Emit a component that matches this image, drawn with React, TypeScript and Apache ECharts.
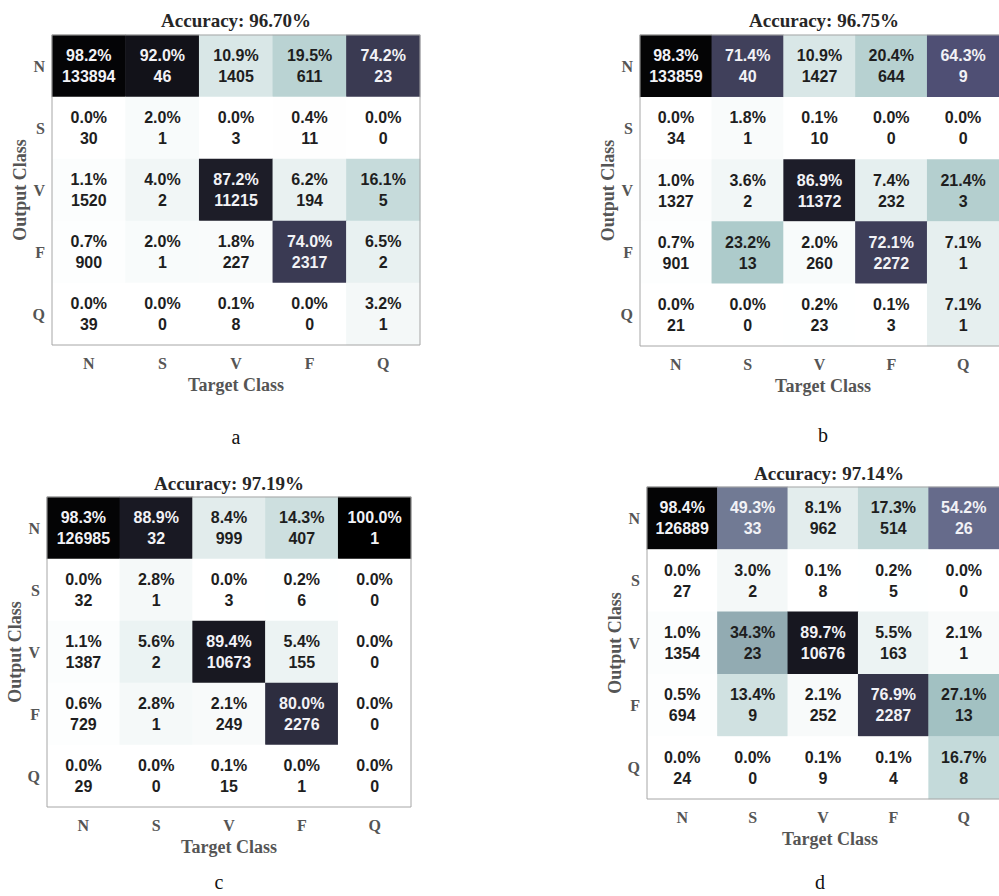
import React, { useEffect, useRef } from "react";
import * as echarts from "echarts";

// Class labels shared by both axes (target = columns, output = rows)
const CLASSES = ["N", "S", "V", "F", "Q"];

// Confusion counts: rows = output class, columns = target class
const COUNTS_A = [
  [133894, 46, 1405, 611, 23],
  [30, 1, 3, 11, 0],
  [1520, 2, 11215, 194, 5],
  [900, 1, 227, 2317, 2],
  [39, 0, 8, 0, 1],
];
const COUNTS_B = [
  [133859, 40, 1427, 644, 9],
  [34, 1, 10, 0, 0],
  [1327, 2, 11372, 232, 3],
  [901, 13, 260, 2272, 1],
  [21, 0, 23, 3, 1],
];
const COUNTS_C = [
  [126985, 32, 999, 407, 1],
  [32, 1, 3, 6, 0],
  [1387, 2, 10673, 155, 0],
  [729, 1, 249, 2276, 0],
  [29, 0, 15, 1, 0],
];
const COUNTS_D = [
  [126889, 33, 962, 514, 26],
  [27, 2, 8, 5, 0],
  [1354, 23, 10676, 163, 1],
  [694, 9, 252, 2287, 13],
  [24, 0, 9, 4, 8],
];

const PANEL_LETTERS = ["a", "b", "c", "d"];

// Reversed bone-like colormap sampled every 1/8 (white -> black)
const BONE_REVERSED = [
  "#ffffff", "#d3e3e3", "#a7c7c7", "#8ba1ab", "#6f7793",
  "#53537a", "#38384f", "#1c1c27", "#000000",
];

const SERIF = "'Liberation Serif', 'Times New Roman', serif";
const SANS = "'Liberation Sans', Arial, sans-serif";

const LAYOUT = [
  { counts: COUNTS_A, grid: { left: 52, top: 35, width: 368, height: 310 }, titleX: 236, titleY: 20, letterX: 236, letterY: 437 },
  { counts: COUNTS_B, grid: { left: 640, top: 35, width: 366, height: 311 }, titleX: 824, titleY: 20, letterX: 823, letterY: 435 },
  { counts: COUNTS_C, grid: { left: 47, top: 497, width: 364, height: 310 }, titleX: 229, titleY: 483, letterX: 219, letterY: 882 },
  { counts: COUNTS_D, grid: { left: 647, top: 487, width: 366, height: 312 }, titleX: 829, titleY: 473, letterX: 820, letterY: 882 },
];

function buildOption() {
  const grids: any[] = [];
  const xAxes: any[] = [];
  const yAxes: any[] = [];
  const series: any[] = [];
  const graphics: any[] = [];

  LAYOUT.forEach((panel, i) => {
    const counts = panel.counts;
    const colSums = CLASSES.map((_, c) => counts.reduce((s, row) => s + row[c], 0));
    const total = colSums.reduce((s, v) => s + v, 0);
    const correct = CLASSES.reduce((s, _, k) => s + counts[k][k], 0);
    const accuracy = (correct / total) * 100;

    const data: any[] = [];
    counts.forEach((row, r) => {
      row.forEach((n, c) => {
        const pct = colSums[c] ? (n / colSums[c]) * 100 : 0;
        data.push({
          value: [c, r, pct, n],
          label: { color: pct >= 40 ? "#f2f2f6" : "#1e1e1e" },
        });
      });
    });

    const g = panel.grid;
    grids.push({ ...g, containLabel: false });
    xAxes.push({
      type: "category",
      gridIndex: i,
      data: CLASSES,
      axisLine: { show: false },
      axisTick: { show: false },
      splitLine: { show: false },
      axisLabel: { margin: 10, fontFamily: SERIF, fontWeight: "bold", fontSize: 16, color: "#555" },
    });
    yAxes.push({
      type: "category",
      gridIndex: i,
      data: CLASSES,
      inverse: true,
      axisLine: { show: false },
      axisTick: { show: false },
      splitLine: { show: false },
      axisLabel: { margin: 7, fontFamily: SERIF, fontWeight: "bold", fontSize: 16, color: "#555" },
    });
    series.push({
      type: "heatmap",
      xAxisIndex: i,
      yAxisIndex: i,
      data,
      itemStyle: { borderWidth: 0 },
      label: {
        show: true,
        fontFamily: SANS,
        fontWeight: "bold",
        fontSize: 16,
        lineHeight: 21,
        formatter: (p: any) => `${p.value[2].toFixed(1)}%\n${p.value[3]}`,
      },
      emphasis: { disabled: true },
    });

    // frame around the matrix
    graphics.push({
      type: "rect",
      z: 100,
      silent: true,
      shape: { x: g.left, y: g.top, width: g.width, height: g.height },
      style: { fill: "none", stroke: "#a6a6a6", lineWidth: 1 },
    });
    graphics.push({
      type: "text",
      x: panel.titleX,
      y: panel.titleY,
      style: {
        text: `Accuracy: ${accuracy.toFixed(2)}%`,
        font: `bold 19px ${SERIF}`,
        fill: "#262626",
        textAlign: "center",
        textVerticalAlign: "middle",
      },
    });
    graphics.push({
      type: "text",
      x: g.left + g.width / 2,
      y: g.top + g.height + 40,
      style: {
        text: "Target Class",
        font: `bold 18px ${SERIF}`,
        fill: "#555",
        textAlign: "center",
        textVerticalAlign: "middle",
      },
    });
    graphics.push({
      type: "text",
      x: g.left - 32,
      y: g.top + g.height / 2,
      rotation: Math.PI / 2,
      style: {
        text: "Output Class",
        font: `bold 18px ${SERIF}`,
        fill: "#555",
        textAlign: "center",
        textVerticalAlign: "middle",
      },
    });
    graphics.push({
      type: "text",
      x: panel.letterX,
      y: panel.letterY,
      style: {
        text: PANEL_LETTERS[i],
        font: `20px ${SERIF}`,
        fill: "#111",
        textAlign: "center",
        textVerticalAlign: "middle",
      },
    });
  });

  return {
    animation: false,
    backgroundColor: "#ffffff",
    grid: grids,
    xAxis: xAxes,
    yAxis: yAxes,
    visualMap: {
      type: "continuous",
      show: false,
      min: 0,
      max: 100,
      dimension: 2,
      seriesIndex: [0, 1, 2, 3],
      inRange: { color: BONE_REVERSED },
    },
    series,
    graphic: graphics,
  };
}

export default function App() {
  const ref = useRef<HTMLDivElement>(null);
  useEffect(() => {
    if (!ref.current) return;
    const chart = echarts.init(ref.current, undefined, { renderer: "svg" });
    chart.setOption(buildOption() as any);
    return () => chart.dispose();
  }, []);
  return (
    <div
      ref={ref}
      style={{ position: "absolute", left: 0, top: 0, width: 999, height: 896, overflow: "hidden" }}
    />
  );
}
